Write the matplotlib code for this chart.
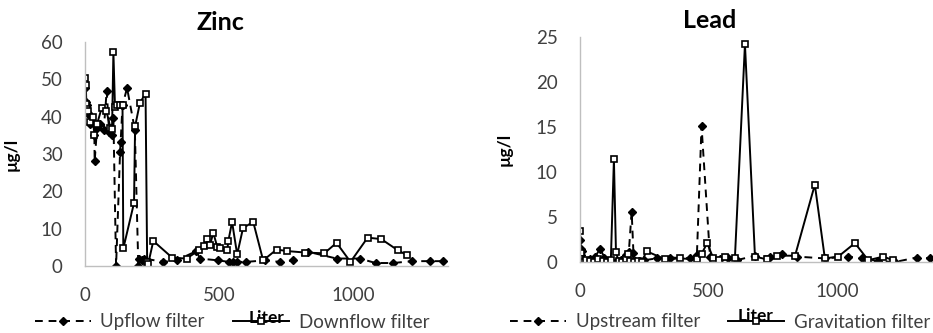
import numpy as np
import matplotlib
matplotlib.use("Agg")
import matplotlib.pyplot as plt

plt.rcParams['font.family'] = ['Lato', 'DejaVu Sans']

# Zinc - downflow filter (squares, solid)
zinc_down_x = [0, 3, 5, 7, 10, 20, 31, 35, 45, 62, 80, 95, 101, 106, 112, 120, 130, 140, 143,
               183, 187, 205, 226, 232, 236, 255, 326, 379, 425, 445, 454, 466, 479, 494, 504,
               531, 535, 549, 568, 590, 628, 665, 715, 755, 822, 893, 939, 991, 1055, 1106,
               1168, 1202]
zinc_down_y = [50.4, 48.6, 43.5, 42, 41.5, 38.5, 39.9, 35.1, 38, 42.3, 41.5, 37, 36.8, 57.3, 42.5,
               43, 43, 43.2, 4.7, 16.9, 37.4, 43.7, 46.2, 1.2, 0.6, 6.7, 2.2, 2.0, 4.2, 5.3, 7.3,
               5.5, 8.9, 5.0, 4.9, 4.2, 6.7, 11.8, 3.1, 10.2, 11.8, 1.5, 4.4, 4.0, 3.6, 3.4, 6.2,
               1.1, 7.6, 7.2, 4.2, 2.9]

# Zinc - upflow filter (diamonds, dashed)
zinc_up_x = [0, 2, 4, 6, 8, 12, 20, 31, 35, 36, 45, 56, 70, 81, 90, 99, 106, 116, 131, 133, 140,
             157, 186, 199, 203, 212, 222, 292, 342, 416, 429, 497, 538, 551, 568, 600, 671, 727,
             777, 833, 939, 1025, 1085, 1150, 1222, 1289, 1336]
zinc_up_y = [47.7, 44, 42, 41, 43, 41, 38, 38.3, 35, 28, 37, 38, 36.5, 47, 36, 35, 39.6, 0, 30.6,
             33.2, 43, 47.7, 36.5, 0, 2.0, 1.5, 2.0, 1.1, 1.5, 4.0, 2.0, 1.5, 1.1, 1.1, 1.1, 1.1,
             1.5, 1.1, 1.5, 3.8, 2.0, 2.0, 0.8, 0.8, 1.3, 1.3, 1.3]

# Lead - gravitation filter (squares, solid)
lead_grav_x = [0, 2, 4, 8, 15, 25, 40, 55, 70, 90, 105, 120, 132, 140, 150, 165, 180, 188, 195,
               210, 225, 240, 259, 331, 389, 454, 473, 495, 519, 540, 564, 603, 642, 681, 726,
               765, 837, 914, 953, 1005, 1070, 1122, 1180, 1219]
lead_grav_y = [3.5, 1.0, 0.3, 0.1, 0.0, 0.2, 0.1, 0.0, 0.3, 0.1, 0.0, 0.2, 11.4, 1.1, 0.1, 0.0,
               0.3, 0.9, 0.1, 0.0, 0.1, 0.0, 1.2, 0.3, 0.4, 0.3, 0.9, 2.1, 0.4, 0.2, 0.6, 0.5,
               24.2, 0.6, 0.3, 0.7, 0.7, 8.6, 0.4, 0.6, 2.1, 0.2, 0.6, 0.2]

# Lead - upstream filter (diamonds, dashed)
lead_up_x = [0, 2, 4, 6, 10, 20, 40, 60, 78, 95, 110, 125, 145, 160, 180, 190, 201, 208, 215, 230,
             250, 298, 350, 428, 455, 473, 506, 545, 575, 610, 681, 739, 785, 843, 953, 1044,
             1096, 1161, 1226, 1310, 1362]
lead_up_y = [2.4, 1.5, 0.8, 1.2, 0.2, 0.1, 0.3, 0.6, 1.5, 0.5, 0.1, 0.0, 0.1, 0.2, 0.8, 1.1, 5.6,
             1.0, 0.1, 0.1, 0.2, 0.4, 0.5, 0.4, 0.8, 15.1, 0.6, 0.3, 0.4, 0.2, 0.7, 0.6, 0.9, 0.6,
             0.4, 0.6, 0.4, 0.1, 0.0, 0.5, 0.4]

fig = plt.figure(figsize=(9.33, 3.33), dpi=100)
ax1 = fig.add_axes([85 / 933, 1 - 266 / 333, 363 / 933, 224 / 333])
ax2 = fig.add_axes([580 / 933, 1 - 262 / 333, 352 / 933, 225 / 333])

dash_kw = dict(color='black', lw=1.4, ls=(0, (4, 3)), marker='D', ms=4.5)
sq_kw = dict(color='black', lw=1.4, ls='-', marker='s', ms=5, mfc='white', mec='black', mew=1.2)


def style(ax, xmax, ymax, ystep):
    ax.set_xlim(0, xmax)
    ax.set_ylim(0, ymax)
    ax.set_xticks([0, 500, 1000])
    ax.set_yticks(np.arange(0, ymax + 0.1, ystep))
    for s in ['top', 'right']:
        ax.spines[s].set_visible(False)
    for s in ['left', 'bottom']:
        ax.spines[s].set_color('#bfbfbf')
        ax.spines[s].set_linewidth(1)
    ax.tick_params(length=0, labelsize=13.5, colors='#404040')
    ax.tick_params(axis='x', pad=15)
    ax.tick_params(axis='y', pad=16)
    ax.set_xlabel('Liter', fontsize=12.5, fontweight='bold')
    ax.set_ylabel('µg/l', fontsize=12.5, fontweight='bold')


# Zinc
l1, = ax1.plot(zinc_up_x, zinc_up_y, label='Upflow filter', **dash_kw)
l2, = ax1.plot(zinc_down_x, zinc_down_y, label='Downflow filter', **sq_kw)
style(ax1, 1355, 60, 10)
ax1.xaxis.set_label_coords(0.5, -0.196)
ax1.yaxis.set_label_coords(-0.18, 0.5)
fig.text(220 / 933, 1 - 23 / 333, 'Zinc', fontsize=18, fontweight='bold', ha='center', va='center')
fig.legend(handles=[l1, l2], loc='center', bbox_to_anchor=(232 / 933, 1 - 322 / 333), ncol=2,
           frameon=False, fontsize=13.5, handlelength=3.0, handletextpad=0.5, columnspacing=1.5,
           borderpad=0, labelcolor='#404040')

# Lead
l3, = ax2.plot(lead_up_x, lead_up_y, label='Upstream filter', **dash_kw)
l4, = ax2.plot(lead_grav_x, lead_grav_y, label='Gravitation filter', **sq_kw)
style(ax2, 1370, 25, 5)
ax2.xaxis.set_label_coords(0.5, -0.204)
ax2.yaxis.set_label_coords(-0.19, 0.5)
fig.text(710 / 933, 1 - 20 / 333, 'Lead', fontsize=18, fontweight='bold', ha='center', va='center')
fig.legend(handles=[l3, l4], loc='center', bbox_to_anchor=(720 / 933, 1 - 322 / 333), ncol=2,
           frameon=False, fontsize=13.5, handlelength=3.0, handletextpad=0.5, columnspacing=1.5,
           borderpad=0, labelcolor='#404040')

fig.savefig('out.png', dpi=100, facecolor='white')
